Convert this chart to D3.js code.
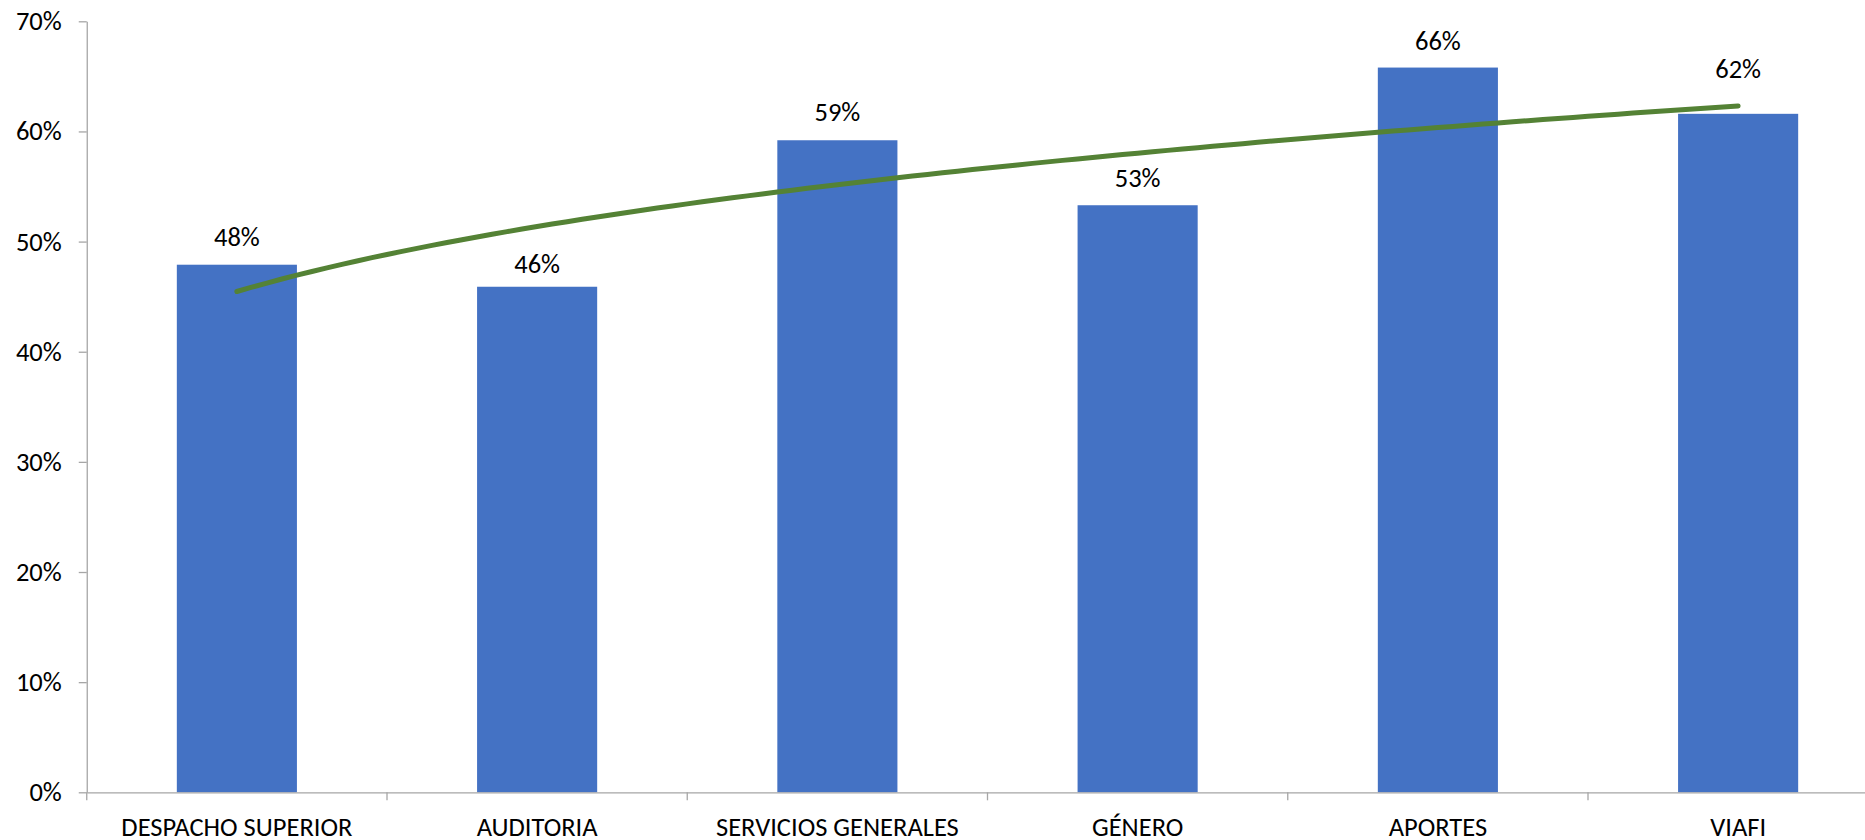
<!DOCTYPE html>
<html><head><meta charset="utf-8">
<script src="https://cdn.jsdelivr.net/npm/d3@7"></script>
<style>
html,body{margin:0;padding:0;background:#fff;}
svg text{font-family:Carlito,Lato,"Liberation Sans",sans-serif;fill:#000;}
</style></head>
<body><svg id="c" width="1865" height="840"></svg>
<script>
const categories = ["DESPACHO SUPERIOR","AUDITORIA","SERVICIOS GENERALES","GÉNERO","APORTES","VIAFI"];
const values = [0.479, 0.459, 0.592, 0.533, 0.658, 0.616];
const valueLabels = ["48%","46%","59%","53%","66%","62%"];
const yTicks = [0,0.1,0.2,0.3,0.4,0.5,0.6,0.7];

// layout: distance (px) of each value label's baseline above its bar
const labelLift = [19, 13.4, 19.3, 18.3, 18, 35.7];

const svg = d3.select("#c");
const x0 = 86.75, step = 300.25;
const x = d3.scaleBand().domain(categories).range([x0, x0 + step*categories.length]).paddingInner(0.6).paddingOuter(0.3);
const y = d3.scaleLinear().domain([0,0.7]).range([792.3, 21.3]);
const fs = 26.5;

// y axis
const ya = svg.append("g").attr("transform",`translate(${x0},0)`)
  .call(d3.axisLeft(y).tickValues(yTicks).tickFormat(d3.format(".0%")).tickSize(8).tickPadding(17).tickSizeOuter(0));
ya.select(".domain").attr("stroke","#a6a6a6").attr("stroke-width",1.3);
ya.selectAll(".tick line").attr("stroke","#a6a6a6").attr("stroke-width",1.3);
ya.selectAll(".tick text").attr("font-size",fs).attr("font-family",null).attr("fill","#000");

// bars
svg.append("g").selectAll("rect").data(values).join("rect")
  .attr("x",(d,i)=>x(categories[i])).attr("width",x.bandwidth())
  .attr("y",d=>y(d)).attr("height",d=>y(0)-y(d))
  .attr("fill","#4472c4");

// x axis
const xa = svg.append("g").attr("transform",`translate(0,${y(0)})`)
  .call(d3.axisBottom(x).tickSize(0).tickSizeOuter(0));
xa.select(".domain").attr("stroke","#a6a6a6").attr("stroke-width",1.3);
xa.selectAll(".tick text").attr("font-size",fs).attr("font-family",null).attr("fill","#000").attr("y",44).attr("dy",0);
// boundary ticks
svg.append("g").selectAll("line").data(d3.range(categories.length+1)).join("line")
  .attr("x1",i=>x0+i*step).attr("x2",i=>x0+i*step)
  .attr("y1",y(0)).attr("y2",y(0)+8).attr("stroke","#a6a6a6").attr("stroke-width",1.3);

// value labels
svg.append("g").selectAll("text").data(values).join("text")
  .attr("x",(d,i)=>x(categories[i])+x.bandwidth()/2).attr("y",(d,i)=>y(d)-labelLift[i])
  .attr("text-anchor","middle").attr("font-size",fs).text((d,i)=>valueLabels[i]);

// power trendline fitted to data
const n = values.length;
const lx = values.map((d,i)=>Math.log(i+1)), ly = values.map(d=>Math.log(d));
const mx = d3.mean(lx), my = d3.mean(ly);
const b = d3.sum(lx.map((v,i)=>(v-mx)*(ly[i]-my))) / d3.sum(lx.map(v=>(v-mx)*(v-mx)));
const a = Math.exp(my - b*mx);
const pts = d3.range(0,101).map(k=>1 + (n-1)*k/100);
const cx0 = x(categories[0]) + x.bandwidth()/2;
svg.append("path").datum(pts)
  .attr("d", d3.line().x(t=>cx0 + (t-1)*step).y(t=>y(a*Math.pow(t,b))))
  .attr("fill","none").attr("stroke","#548235").attr("stroke-width",5).attr("stroke-linecap","round");
</script></body></html>
